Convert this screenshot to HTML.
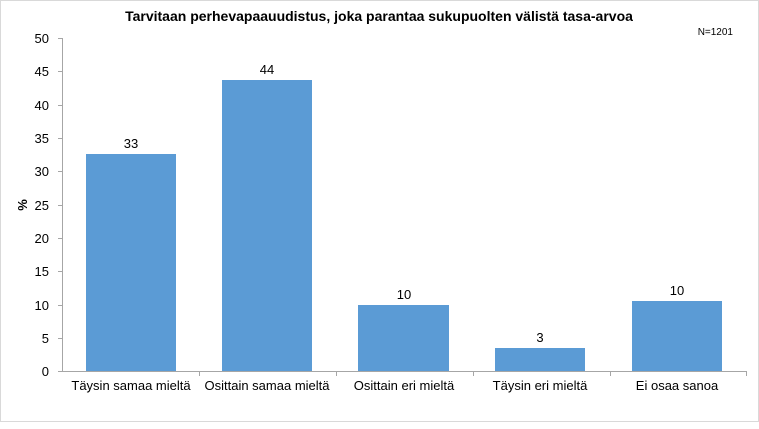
<!DOCTYPE html>
<html><head><style>body{margin:0;background:#fff}</style></head><body>
<svg width="759" height="424" xmlns="http://www.w3.org/2000/svg" font-family="Liberation Sans, DejaVu Sans, sans-serif">
<rect x="0.5" y="0.5" width="758" height="421" fill="#fff" stroke="#d9d9d9"/>
<text x="379" y="21" text-anchor="middle" font-size="14" font-weight="bold" fill="#000">Tarvitaan perhevapaauudistus, joka parantaa sukupuolten välistä tasa-arvoa</text>
<text x="733" y="35" text-anchor="end" font-size="10" fill="#000">N=1201</text>
<g stroke="#a6a6a6" stroke-width="1">
<line x1="62.5" y1="38" x2="62.5" y2="371"/>
<line x1="58" y1="371.5" x2="747" y2="371.5"/>
<line x1="58" y1="38.5" x2="62" y2="38.5"/><line x1="58" y1="105.5" x2="62" y2="105.5"/>
<line x1="58" y1="71.5" x2="62" y2="71.5"/><line x1="58" y1="138.5" x2="62" y2="138.5"/>
<line x1="58" y1="171.5" x2="62" y2="171.5"/><line x1="58" y1="205.5" x2="62" y2="205.5"/>
<line x1="58" y1="238.5" x2="62" y2="238.5"/><line x1="58" y1="271.5" x2="62" y2="271.5"/>
<line x1="58" y1="305.5" x2="62" y2="305.5"/><line x1="58" y1="338.5" x2="62" y2="338.5"/>
<line x1="199.5" y1="371" x2="199.5" y2="376"/><line x1="336.5" y1="371" x2="336.5" y2="376"/>
<line x1="473.5" y1="371" x2="473.5" y2="376"/><line x1="610.5" y1="371" x2="610.5" y2="376"/>
<line x1="746.5" y1="371" x2="746.5" y2="376"/>
</g>
<g font-size="13" text-anchor="end" fill="#000">
<text x="49" y="43">50</text><text x="49" y="76">45</text><text x="49" y="110">40</text>
<text x="49" y="143">35</text><text x="49" y="176">30</text><text x="49" y="210">25</text>
<text x="49" y="243">20</text><text x="49" y="276">15</text><text x="49" y="310">10</text>
<text x="49" y="343">5</text><text x="49" y="376">0</text>
</g>
<text transform="translate(27,205) rotate(-90)" text-anchor="middle" font-size="13" font-weight="bold">%</text>
<g fill="#5b9bd5">
<rect x="86" y="154" width="90" height="217"/>
<rect x="222" y="80" width="90" height="291"/>
<rect x="358" y="305" width="91" height="66"/>
<rect x="495" y="348" width="90" height="23"/>
<rect x="632" y="301" width="90" height="70"/>
</g>
<g font-size="13" text-anchor="middle" fill="#000">
<text x="131" y="148">33</text><text x="267" y="74">44</text><text x="404" y="299">10</text>
<text x="540" y="342">3</text><text x="677" y="295">10</text>
<text x="131" y="390">Täysin samaa mieltä</text><text x="267" y="390">Osittain samaa mieltä</text>
<text x="404" y="390">Osittain eri mieltä</text><text x="540" y="390">Täysin eri mieltä</text>
<text x="677" y="390">Ei osaa sanoa</text>
</g>
</svg>
</body></html>
